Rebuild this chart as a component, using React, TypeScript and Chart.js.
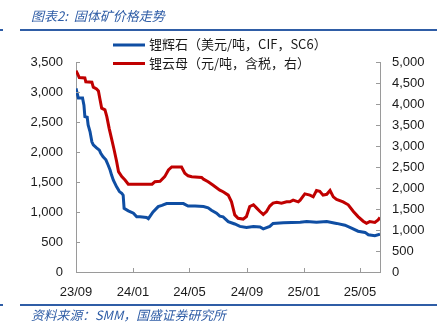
import React, { useEffect, useRef } from "react";
import { Chart, registerables } from "chart.js";

Chart.register(...registerables);

const titleText = "图表2:  固体矿价格走势";
const sourceText = "资料来源：SMM，国盛证券研究所";
const blueLabel = "锂辉石（美元/吨，CIF，SC6）";
const redLabel = "锂云母（元/吨，含税，右）";

const axisStart = "2023-09-01";
const axisEnd = "2025-06-13";
const xTickDates = ["2023-09-01", "2024-01-01", "2024-05-01", "2024-09-01", "2025-01-01", "2025-05-01"];
const xTickLabels = ["23/09", "24/01", "24/05", "24/09", "25/01", "25/05"];

const blueDates = [
  "2023-09-01", "2023-09-06", "2023-09-15", "2023-09-18", "2023-09-20", "2023-09-25", "2023-09-27",
  "2023-10-01", "2023-10-05", "2023-10-08", "2023-10-15", "2023-10-21", "2023-10-24", "2023-10-29",
  "2023-11-04", "2023-11-09", "2023-11-13", "2023-11-16", "2023-11-20", "2023-11-27", "2023-12-03",
  "2023-12-08", "2023-12-11", "2023-12-13", "2023-12-22", "2024-01-02", "2024-01-09", "2024-01-16",
  "2024-01-30", "2024-02-03", "2024-02-13", "2024-02-24", "2024-03-03", "2024-03-13", "2024-04-18",
  "2024-04-28", "2024-05-13", "2024-05-31", "2024-06-10", "2024-06-17", "2024-06-28", "2024-07-05",
  "2024-07-12", "2024-07-23", "2024-08-06", "2024-08-17", "2024-08-31", "2024-09-15", "2024-09-29",
  "2024-10-06", "2024-10-20", "2024-10-27", "2024-11-18", "2024-12-24", "2025-01-07", "2025-01-28",
  "2025-02-19", "2025-03-12", "2025-03-30", "2025-04-13", "2025-04-27", "2025-05-12", "2025-05-19",
  "2025-06-02", "2025-06-13",
];
const blueValues = [
  3060, 2900, 2900, 2780, 2590, 2580, 2450,
  2340, 2170, 2120, 2070, 2030, 1980, 1920,
  1870, 1780, 1700, 1620, 1530, 1420, 1340,
  1310, 1280, 1060, 1020, 980, 920, 920,
  910, 890, 1000, 1090, 1110, 1140, 1140,
  1100, 1100, 1090, 1070, 1030, 980, 930,
  920, 840, 800, 760, 740, 760, 750,
  720, 760, 810, 820, 830, 840, 830,
  840, 810, 780, 730, 680, 660, 620,
  605, 630,
];

const redDates = [
  "2023-09-01", "2023-09-04", "2023-09-08", "2023-09-20", "2023-09-22", "2023-10-05", "2023-10-08",
  "2023-10-15", "2023-10-19", "2023-10-22", "2023-10-26", "2023-11-02", "2023-11-06", "2023-11-11",
  "2023-11-16", "2023-11-21", "2023-11-27", "2023-12-01", "2023-12-08", "2023-12-15", "2023-12-22",
  "2024-02-11", "2024-02-17", "2024-02-28", "2024-03-09", "2024-03-17", "2024-03-24", "2024-04-14",
  "2024-04-21", "2024-04-28", "2024-05-06", "2024-05-27", "2024-05-31", "2024-06-10", "2024-06-20",
  "2024-06-25", "2024-07-05", "2024-07-12", "2024-07-23", "2024-07-30", "2024-08-06", "2024-08-13",
  "2024-08-24", "2024-08-31", "2024-09-07", "2024-09-15", "2024-09-22", "2024-09-29", "2024-10-06",
  "2024-10-13", "2024-10-20", "2024-10-27", "2024-11-04", "2024-11-14", "2024-11-25", "2024-12-02",
  "2024-12-09", "2024-12-20", "2024-12-24", "2025-01-03", "2025-01-14", "2025-01-21", "2025-01-28",
  "2025-02-04", "2025-02-11", "2025-02-19", "2025-02-26", "2025-03-05", "2025-03-12", "2025-03-26",
  "2025-04-06", "2025-04-17", "2025-04-27", "2025-05-08", "2025-05-15", "2025-05-22", "2025-06-02",
  "2025-06-09", "2025-06-13",
];
const redValues = [
  4790, 4730, 4630, 4620, 4530, 4520, 4400,
  4360, 4310, 4130, 3900, 3860, 3700, 3420,
  3180, 2940, 2630, 2390, 2270, 2190, 2090,
  2090, 2150, 2160, 2270, 2430, 2500, 2500,
  2350, 2290, 2270, 2250, 2210, 2150, 2070,
  2030, 1950, 1910, 1830, 1670, 1360, 1280,
  1260, 1320, 1560, 1600, 1520, 1440, 1370,
  1440, 1570, 1640, 1660, 1640, 1670, 1670,
  1710, 1670, 1710, 1860, 1830, 1790, 1940,
  1920, 1830, 1850, 1940, 1790, 1730, 1670,
  1600, 1440, 1320, 1210, 1160, 1200, 1180,
  1240, 1300,
];

const BLUE = "#0F4EA3";
const RED = "#C00000";
const ACCENT = "#2F5DA6";
const AXIS = "#9a9a9a";
const TICK_FONT = "'Liberation Sans', Arial, sans-serif";
const CJK_FONT = "'Noto Sans CJK SC', sans-serif";

const dayOf = (s: string) => (Date.parse(s) - Date.parse(axisStart)) / 86400000;
const fmt = (v: number) => v.toLocaleString("en-US");

const decorPlugin = {
  id: "decor",
  afterDraw(chart: any) {
    const { ctx, chartArea } = chart;
    ctx.save();
    // title
    ctx.fillStyle = ACCENT;
    ctx.font = `italic 13px ${CJK_FONT}`;
    ctx.textBaseline = "middle";
    ctx.textAlign = "left";
    ctx.fillText(titleText, 31, 16);
    // rules
    ctx.fillStyle = ACCENT;
    ctx.fillRect(20, 29, 417, 2);
    ctx.fillRect(0, 29, 3, 2);
    ctx.fillRect(20, 304, 417, 2);
    ctx.fillRect(0, 304, 3, 2);
    // source
    ctx.font = `italic 12.8px ${CJK_FONT}`;
    ctx.fillText(sourceText, 31, 315);
    // legend
    ctx.font = `13px ${CJK_FONT}`;
    ctx.fillStyle = "#1a1a1a";
    ctx.fillText(blueLabel, 149, 44.5);
    ctx.fillText(redLabel, 149, 63.5);
    ctx.fillStyle = BLUE;
    ctx.fillRect(113, 43.5, 32, 3);
    ctx.fillStyle = RED;
    ctx.fillRect(113, 62, 32, 3);
    // inner tick marks
    ctx.strokeStyle = AXIS;
    ctx.lineWidth = 1;
    ctx.beginPath();
    const ys = chart.scales.y;
    ys.ticks.forEach((t: any) => {
      const py = Math.round(ys.getPixelForValue(t.value)) + 0.5;
      ctx.moveTo(chartArea.left, py);
      ctx.lineTo(chartArea.left + 4, py);
    });
    const yr = chart.scales.y1;
    yr.ticks.forEach((t: any) => {
      const py = Math.round(yr.getPixelForValue(t.value)) + 0.5;
      ctx.moveTo(chartArea.right - 4, py);
      ctx.lineTo(chartArea.right, py);
    });
    const xs = chart.scales.x;
    xs.ticks.forEach((t: any) => {
      const px = Math.round(xs.getPixelForValue(t.value)) + 0.5;
      ctx.moveTo(px, chartArea.bottom);
      ctx.lineTo(px, chartArea.bottom - 4);
    });
    ctx.stroke();
    ctx.restore();
  },
};

export default function App() {
  const ref = useRef<HTMLCanvasElement>(null);
  useEffect(() => {
    if (!ref.current) return;
    const blueData = blueDates.map((d, i) => ({ x: dayOf(d), y: blueValues[i] }));
    const redData = redDates.map((d, i) => ({ x: dayOf(d), y: redValues[i] }));
    const tickDays = xTickDates.map(dayOf);
    const chart = new Chart(ref.current, {
      type: "line",
      data: {
        datasets: [
          { label: blueLabel, data: blueData, borderColor: BLUE, borderWidth: 3, pointRadius: 0, tension: 0, yAxisID: "y" },
          { label: redLabel, data: redData, borderColor: RED, borderWidth: 3, pointRadius: 0, tension: 0, yAxisID: "y1" },
        ],
      },
      options: {
        animation: false,
        responsive: false,
        layout: { padding: { top: 62, left: 0, right: 0, bottom: 0 } },
        plugins: { legend: { display: false }, tooltip: { enabled: false } },
        scales: {
          x: {
            type: "linear",
            min: 0,
            max: dayOf(axisEnd),
            afterBuildTicks: (s: any) => {
              s.ticks = tickDays.map((v) => ({ value: v }));
            },
            afterFit: (s: any) => {
              s.height = 59;
            },
            ticks: {
              autoSkip: false,
              maxRotation: 0,
              padding: 13,
              color: "#1a1a1a",
              font: { family: TICK_FONT, size: 13 },
              callback: (v: any) => {
                const i = tickDays.findIndex((d) => Math.abs(d - v) < 0.5);
                return i >= 0 ? xTickLabels[i] : "";
              },
            },
            grid: { display: true, drawOnChartArea: false, drawTicks: false },
            border: { display: true, color: AXIS, width: 1 },
          },
          y: {
            position: "left",
            min: 0,
            max: 3500,
            afterFit: (s: any) => {
              s.width = 76;
            },
            ticks: { stepSize: 500, padding: 13, color: "#1a1a1a", font: { family: TICK_FONT, size: 13 }, callback: (v: any) => fmt(v) },
            grid: { display: true, drawOnChartArea: false, drawTicks: false },
            border: { display: true, color: AXIS, width: 1 },
          },
          y1: {
            position: "right",
            min: 0,
            max: 5000,
            afterFit: (s: any) => {
              s.width = 62;
            },
            ticks: { stepSize: 500, padding: 12, color: "#1a1a1a", font: { family: TICK_FONT, size: 13 }, callback: (v: any) => fmt(v) },
            grid: { display: true, drawOnChartArea: false, drawTicks: false },
            border: { display: true, color: AXIS, width: 1 },
          },
        },
      },
      plugins: [decorPlugin],
    } as any);
    return () => chart.destroy();
  }, []);
  return (
    <div style={{ position: "fixed", left: 0, top: 0, width: 442, height: 331, background: "#fff" }}>
      <canvas ref={ref} width={442} height={331} style={{ display: "block" }} />
    </div>
  );
}
